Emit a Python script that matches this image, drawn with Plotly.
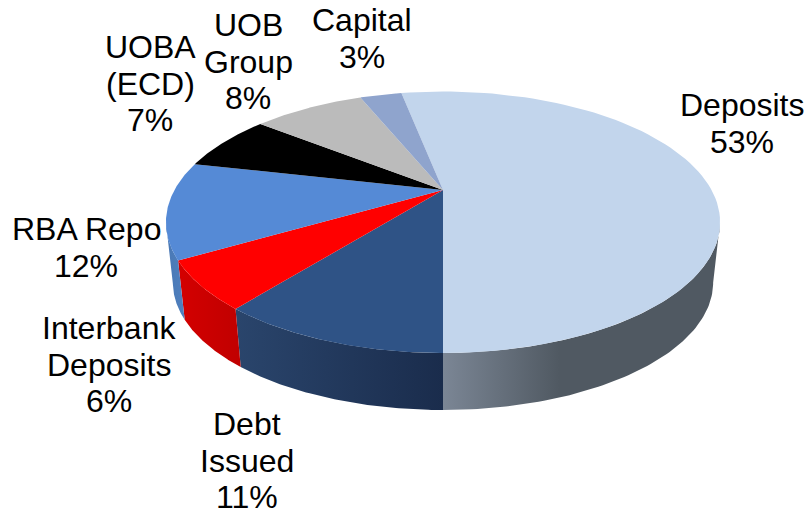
import numpy as np
import plotly.graph_objects as go

# Funding mix, listed clockwise from the top of the pie
categories = ["Deposits", "Debt Issued", "Interbank Deposits", "RBA Repo", "UOBA (ECD)", "UOB Group", "Capital"]
shares = [53, 11, 6, 12, 7, 8, 3]
label_lines = [["Deposits"], ["Debt", "Issued"], ["Interbank", "Deposits"], ["RBA Repo"],
               ["UOBA", "(ECD)"], ["UOB", "Group"], ["Capital"]]
label_x = [742, 247, 109, 86, 150, 248, 362]
label_y = [105, 424, 328, 229, 47, 25, 20]

top_colors = ["#c2d5ec", "#2f5386", "#ff0000", "#558ad6", "#000000", "#bbbbbb", "#8fa4cd"]
wall_scales = [
    [[0, "#7b8695"], [0.42, "#505962"], [1, "#505962"]],
    [[0, "#2a456c"], [1, "#1a2c4c"]],
    [[0, "#d40000"], [1, "#c00000"]],
    [[0, "#4a78b4"], [1, "#4f80bf"]],
]

# Perspective projection of the pie disc onto the page (pixels)
CX, CY = 443, 190
RIM_SHIFT = 3.5
RX, RY, TILT = 270.3, 124.4, 0.22
BOTTOM_DROP, BOTTOM_SCALE = 61, 0.975
START_DEG = -10.8
LINE_STEP = 36.5
# Rim angles where the disc outline is widest, so the wall silhouette stays straight
SIDE_DEG = np.degrees(np.arccos(-TILT))


def rim(theta_deg, bottom=False):
    t = np.radians(theta_deg)
    u, v = np.sin(t), -np.cos(t)
    d = 1 - TILT * v
    s = BOTTOM_SCALE if bottom else 1.0
    drop = BOTTOM_DROP if bottom else 0
    return CX + s * RX * u / d, CY + RIM_SHIFT + drop + s * RY * v / d


edges = START_DEG + np.cumsum([0] + shares) * 3.6
fig = go.Figure()

# Outer walls: only the front-facing part of each slice's rim
for i, scale in enumerate(wall_scales):
    a, b = max(edges[i], SIDE_DEG), min(edges[i + 1], 360 - SIDE_DEG)
    th = np.linspace(a, b, 80)
    xt, yt = rim(th)
    xb, yb = rim(th[::-1], bottom=True)
    fig.add_trace(go.Scatter(
        x=np.r_[xt, xb], y=np.r_[yt, yb], mode="lines", line=dict(width=0),
        fill="toself", fillgradient=dict(type="horizontal", colorscale=scale),
        name=categories[i], hoverinfo="skip", showlegend=False))

# Top faces
for i, name in enumerate(categories):
    th = np.linspace(edges[i], edges[i + 1], 90)
    xr, yr = rim(th)
    fig.add_trace(go.Scatter(
        x=np.r_[CX, xr, CX], y=np.r_[CY, yr, CY], mode="lines", line=dict(width=0),
        fill="toself", fillcolor=top_colors[i], name=name,
        hoverinfo="name", showlegend=False))

# Category names with their shares, stacked line by line
for lines, share, x, y in zip(label_lines, shares, label_x, label_y):
    for j, text in enumerate(lines + [f"{share}%"]):
        fig.add_annotation(x=x, y=y + j * LINE_STEP, text=text, showarrow=False,
                           xanchor="center", yanchor="middle",
                           font=dict(family="Liberation Sans, Arial, sans-serif", size=32, color="#000000"))

fig.update_layout(
    width=807, height=515, margin=dict(l=0, r=0, t=0, b=0),
    paper_bgcolor="white", plot_bgcolor="white", showlegend=False,
    xaxis=dict(visible=False, range=[0, 807], fixedrange=True),
    yaxis=dict(visible=False, range=[515, 0], fixedrange=True),
)
fig.write_html("out.html", config={"displayModeBar": False})
